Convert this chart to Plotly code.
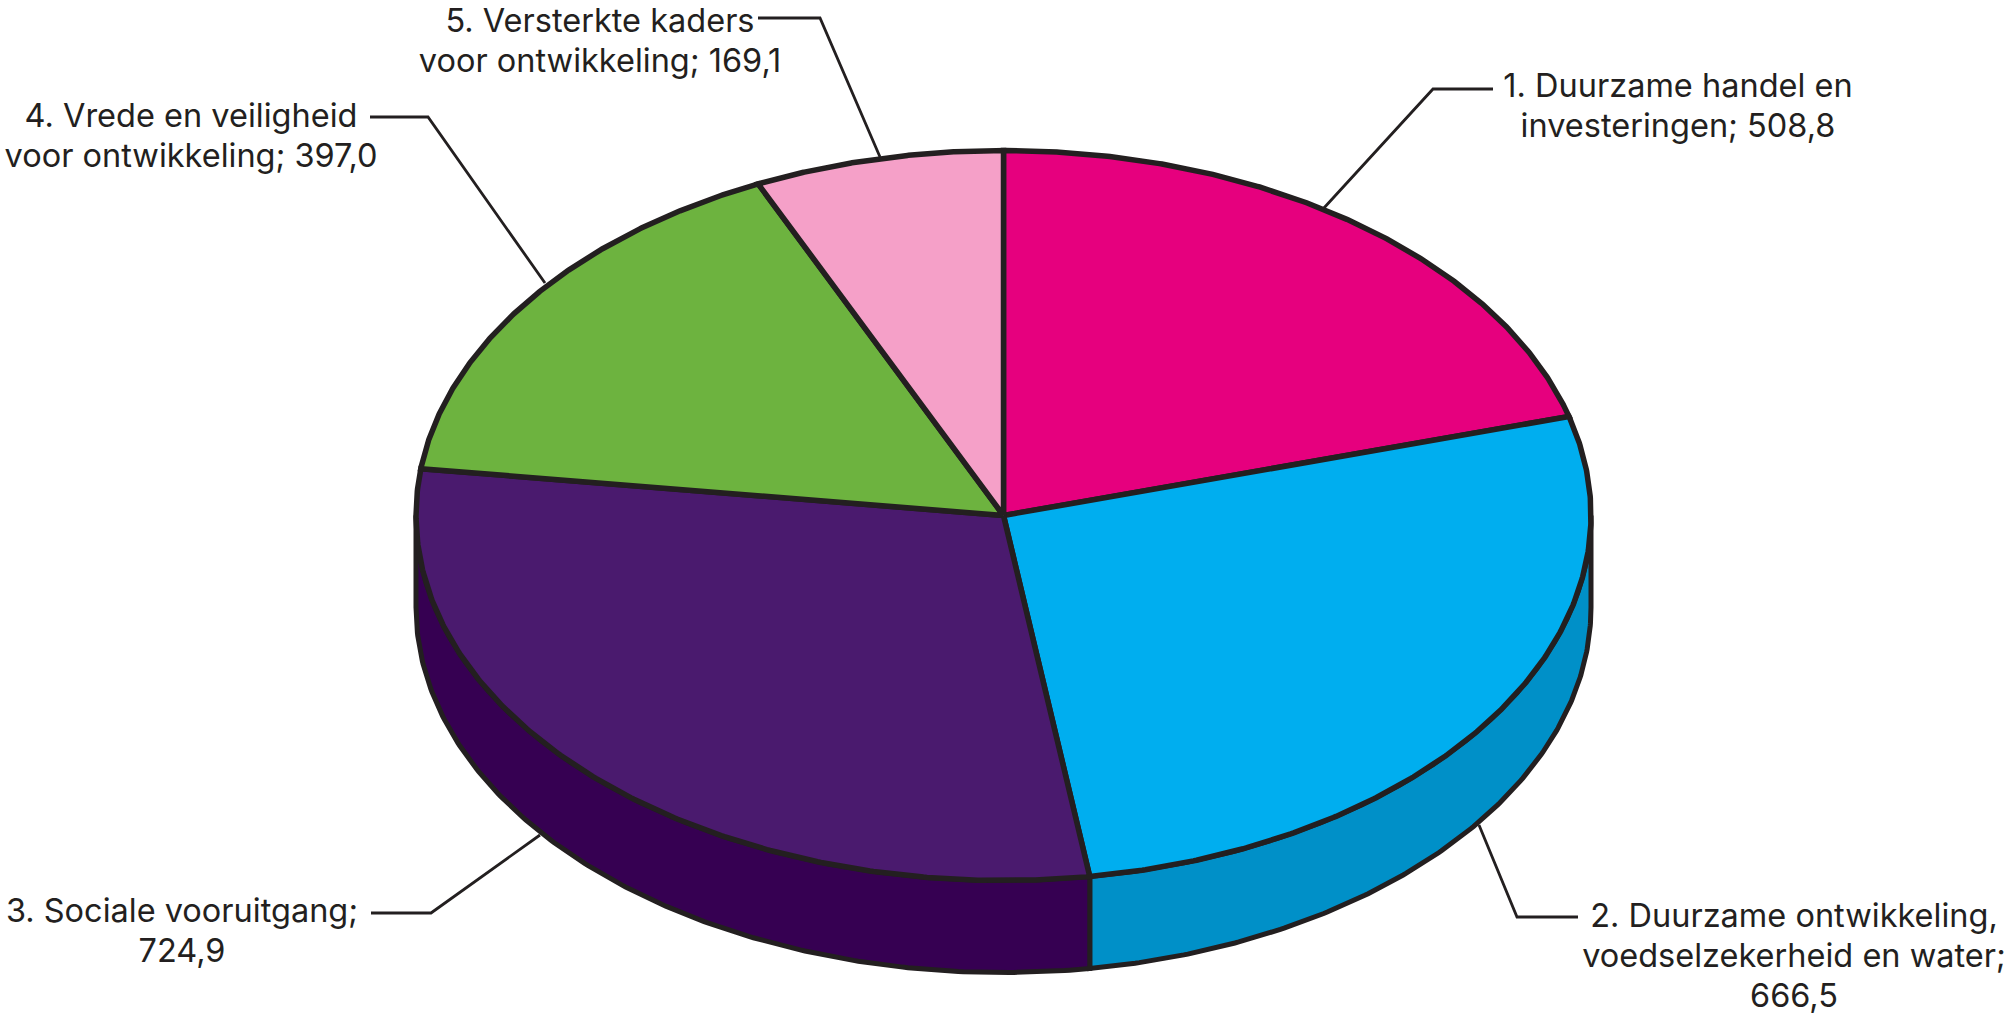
import numpy as np
import plotly.graph_objects as go

categories = ["1. Duurzame handel en investeringen", "2. Duurzame ontwikkeling, voedselzekerheid en water",
              "3. Sociale vooruitgang", "4. Vrede en veiligheid voor ontwikkeling", "5. Versterkte kaders voor ontwikkeling"]
values = [508.8, 666.5, 724.9, 397.0, 169.1]
label_lines = [
    ["1. Duurzame handel en", "investeringen; 508,8"],
    ["2. Duurzame ontwikkeling,", "voedselzekerheid en water;", "666,5"],
    ["3. Sociale vooruitgang;", "724,9"],
    ["4. Vrede en veiligheid", "voor ontwikkeling; 397,0"],
    ["5. Versterkte kaders", "voor ontwikkeling; 169,1"],
]

top_colors = ["#e6007e", "#00aeef", "#4a1a6e", "#6db33f", "#f5a0c8"]
side_colors = ["#b00060", "#0090c8", "#360052", "#558c30", "#c07a9c"]
INK = "#231f20"
CX, CY, RX, RY, DEPTH = 1003.5, 515.5, 587.5, 365.0, 92.0
FONT_PX = 32.5
LINE_GAP = 40

# label anchor: centre x, first-line y
label_anchor = [(1678, 89), (1794, 919), (182, 914), (191, 119), (600, 24)]
leaders = [
    [(1493, 89), (1433, 89), (1323, 209)],
    [(1578, 917), (1517, 917), (1479, 825)],
    [(371, 913), (431, 913), (540, 835)],
    [(370, 117), (428, 117), (545, 283)],
    [(758, 18), (820, 18), (880, 157)],
]


def ell(theta, dy=0.0):
    return CX + RX * np.sin(theta), CY - RY * np.cos(theta) + dy


fractions = np.cumsum([0] + values) / sum(values) * 2 * np.pi
fig = go.Figure()

# side walls (only the front half, pi/2 .. 3pi/2, is visible)
for i in range(len(values)):
    a, b = max(fractions[i], np.pi / 2), min(fractions[i + 1], 3 * np.pi / 2)
    if b <= a:
        continue
    t = np.linspace(a, b, 200)
    xt, yt = ell(t)
    xb, yb = ell(t[::-1], DEPTH)
    fig.add_trace(go.Scatter(
        x=np.r_[xt, xb, xt[0]], y=np.r_[yt, yb, yt[0]], mode="lines", fill="toself",
        fillcolor=side_colors[i], line=dict(color=INK, width=5), hoverinfo="skip", showlegend=False))

# top slices
for i, name in enumerate(categories):
    t = np.linspace(fractions[i], fractions[i + 1], 300)
    x, y = ell(t)
    fig.add_trace(go.Scatter(
        x=np.r_[CX, x, CX], y=np.r_[CY, y, CY], mode="lines", fill="toself", name=name,
        fillcolor=top_colors[i], line=dict(color=INK, width=5.5), showlegend=False))

# leader lines
for pts in leaders:
    fig.add_trace(go.Scatter(x=[p[0] for p in pts], y=[p[1] for p in pts], mode="lines",
                             line=dict(color=INK, width=2.8), hoverinfo="skip", showlegend=False))

# labels
for lines, (ax, ay) in zip(label_lines, label_anchor):
    fig.add_trace(go.Scatter(
        x=[ax] * len(lines), y=[ay + k * LINE_GAP for k in range(len(lines))],
        mode="text", text=lines, textposition="middle center",
        textfont=dict(family="Inter", size=FONT_PX, color=INK),
        hoverinfo="skip", showlegend=False, cliponaxis=False))

fig.update_layout(
    width=2008, height=1015, margin=dict(l=0, r=0, t=0, b=0),
    paper_bgcolor="white", plot_bgcolor="white",
    xaxis=dict(range=[0, 2008], visible=False, fixedrange=True),
    yaxis=dict(range=[1015, 0], visible=False, fixedrange=True),
)
fig.write_html("out.html", config={"displayModeBar": False},
               post_script="document.body.style.margin='0';")
